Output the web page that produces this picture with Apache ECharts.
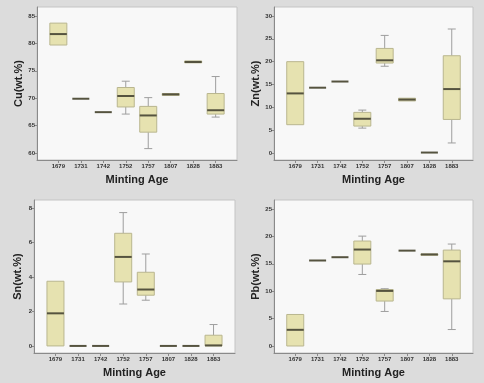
<!DOCTYPE html>
<html>
<head>
<meta charset="utf-8">
<title>Minting age boxplots</title>
<script src="https://cdn.jsdelivr.net/npm/echarts@6/dist/echarts.min.js"></script>
<style>
  html, body { margin: 0; padding: 0; background: #dcdcdc; }
  #main { width: 484px; height: 383px; }
</style>
</head>
<body>
<div id="main"></div>
<script>
// minting years (x categories)
const categories = ['1679', '1731', '1742', '1752', '1757', '1807', '1828', '1883'];

// each box: [min, Q1, median, Q3, max] in wt.%
const cuBoxes = [
  [79.7, 79.7, 81.7, 83.7, 83.7],
  [69.9, 69.9, 69.9, 69.9, 69.9],
  [67.45, 67.45, 67.45, 67.45, 67.45],
  [67.1, 68.4, 70.4, 71.95, 73.1],
  [60.8, 63.8, 66.85, 68.5, 70.1],
  [70.5, 70.5, 70.7, 70.85, 70.85],
  [76.45, 76.45, 76.6, 76.8, 76.8],
  [66.55, 67.1, 67.8, 70.85, 73.95]
];
const znBoxes = [
  [6.2, 6.2, 13.05, 20.0, 20.0],
  [14.3, 14.3, 14.3, 14.3, 14.3],
  [15.65, 15.65, 15.65, 15.65, 15.65],
  [5.45, 5.9, 7.5, 8.9, 9.4],
  [19.0, 19.7, 20.3, 22.9, 25.75],
  [11.4, 11.4, 11.7, 12.0, 12.0],
  [0.1, 0.1, 0.1, 0.1, 0.1],
  [2.2, 7.35, 14.0, 21.3, 27.15]
];
const snBoxes = [
  [0, 0, 1.89, 3.75, 3.75],
  [0, 0, 0, 0, 0],
  [0, 0, 0, 0, 0],
  [2.43, 3.71, 5.16, 6.53, 7.73],
  [2.65, 2.94, 3.27, 4.27, 5.33],
  [0, 0, 0, 0, 0],
  [0, 0, 0, 0, 0],
  [0, 0, 0.03, 0.62, 1.24]
];
const pbBoxes = [
  [0, 0, 2.95, 5.75, 5.75],
  [15.6, 15.6, 15.6, 15.6, 15.6],
  [16.2, 16.2, 16.2, 16.2, 16.2],
  [13.05, 14.95, 17.6, 19.15, 20.05],
  [6.3, 8.2, 10.05, 10.3, 10.45],
  [17.4, 17.4, 17.4, 17.4, 17.4],
  [16.55, 16.55, 16.7, 16.8, 16.8],
  [3.0, 8.6, 15.45, 17.5, 18.6]
];

// y tick labels of each panel
const cuTicks = [60, 65, 70, 75, 80, 85];
const znTicks = [0, 5, 10, 15, 20, 25, 30];
const snTicks = [0, 2, 4, 6, 8];
const pbTicks = [0, 5, 10, 15, 20, 25];

const panels = [
  { name: 'Cu(wt.%)', boxes: cuBoxes, ticks: cuTicks, min: 58.72, max: 86.64, grid: { left: 37, top: 7, width: 200, height: 153 } },
  { name: 'Zn(wt.%)', boxes: znBoxes, ticks: znTicks, min: -1.53, max: 31.97, grid: { left: 274, top: 7, width: 199, height: 153 } },
  { name: 'Sn(wt.%)', boxes: snBoxes, ticks: snTicks, min: -0.41, max: 8.46, grid: { left: 34, top: 200, width: 201, height: 153 } },
  { name: 'Pb(wt.%)', boxes: pbBoxes, ticks: pbTicks, min: -1.28, max: 26.64, grid: { left: 274, top: 200, width: 199, height: 153 } }
];

const catIdx = categories.map((c, i) => i);
const labelStyle = { fontSize: 6, fontWeight: 'bold', color: '#333' };

// box, whiskers and median drawn from the axis scales
function renderBox(params, api) {
  const x = api.value(0);
  const lo = api.coord([x, api.value(1)]);
  const q1 = api.coord([x, api.value(2)]);
  const md = api.coord([x, api.value(3)]);
  const q3 = api.coord([x, api.value(4)]);
  const hi = api.coord([x, api.value(5)]);
  const cx = md[0];
  const bw = 17, cap = 4;
  const whisker = { stroke: '#9e9e9e', lineWidth: 1 };
  const kids = [];
  if (hi[1] < q3[1] - 0.5) {
    kids.push({ type: 'line', shape: { x1: cx, y1: hi[1], x2: cx, y2: q3[1] }, style: whisker });
    kids.push({ type: 'line', shape: { x1: cx - cap, y1: hi[1], x2: cx + cap, y2: hi[1] }, style: whisker });
  }
  if (lo[1] > q1[1] + 0.5) {
    kids.push({ type: 'line', shape: { x1: cx, y1: q1[1], x2: cx, y2: lo[1] }, style: whisker });
    kids.push({ type: 'line', shape: { x1: cx - cap, y1: lo[1], x2: cx + cap, y2: lo[1] }, style: whisker });
  }
  if (q1[1] - q3[1] > 0.5) {
    kids.push({
      type: 'rect',
      shape: { x: cx - bw / 2, y: q3[1], width: bw, height: q1[1] - q3[1] },
      style: { fill: '#e6e2b0', stroke: '#b9b68f', lineWidth: 1 }
    });
  }
  kids.push({
    type: 'line',
    shape: { x1: cx - bw / 2, y1: md[1], x2: cx + bw / 2, y2: md[1] },
    style: { stroke: '#55533f', lineWidth: 2 }
  });
  return { type: 'group', children: kids };
}

const option = {
  backgroundColor: '#dcdcdc',
  animation: false,
  textStyle: { fontFamily: 'Liberation Sans' },
  grid: panels.map(p => Object.assign({
    show: true, backgroundColor: '#f8f8f8', borderColor: '#c4c4c4', borderWidth: 1
  }, p.grid)),
  xAxis: panels.map((p, i) => ({
    type: 'value', gridIndex: i, min: -0.95, max: 7.95,
    name: 'Minting Age', nameLocation: 'middle', nameGap: 14,
    nameTextStyle: { fontSize: 11, fontWeight: 'bold', color: '#222' },
    splitLine: { show: false },
    axisLine: { show: true, onZero: false, lineStyle: { color: '#8a8a8a' } },
    axisTick: { show: true, length: 3, lineStyle: { color: '#8a8a8a' }, customValues: catIdx },
    axisLabel: Object.assign({ margin: 3, customValues: catIdx, formatter: v => categories[v] }, labelStyle)
  })),
  yAxis: panels.map((p, i) => ({
    type: 'value', gridIndex: i, min: p.min, max: p.max,
    name: p.name, nameLocation: 'middle', nameGap: 11,
    nameTextStyle: { fontSize: 11, fontWeight: 'bold', color: '#222' },
    splitLine: { show: false },
    axisLine: { show: true, onZero: false, lineStyle: { color: '#8a8a8a' } },
    axisTick: { show: true, length: 2, lineStyle: { color: '#8a8a8a' }, customValues: p.ticks },
    axisLabel: Object.assign({ margin: 2, customValues: p.ticks }, labelStyle)
  })),
  series: panels.map((p, i) => ({
    type: 'custom', name: p.name, xAxisIndex: i, yAxisIndex: i,
    renderItem: renderBox,
    encode: { x: 0, y: [1, 2, 3, 4, 5] },
    data: p.boxes.map((b, j) => [j].concat(b))
  }))
};

const myChart = echarts.init(document.getElementById('main'));
myChart.setOption(option);
</script>
</body>
</html>
